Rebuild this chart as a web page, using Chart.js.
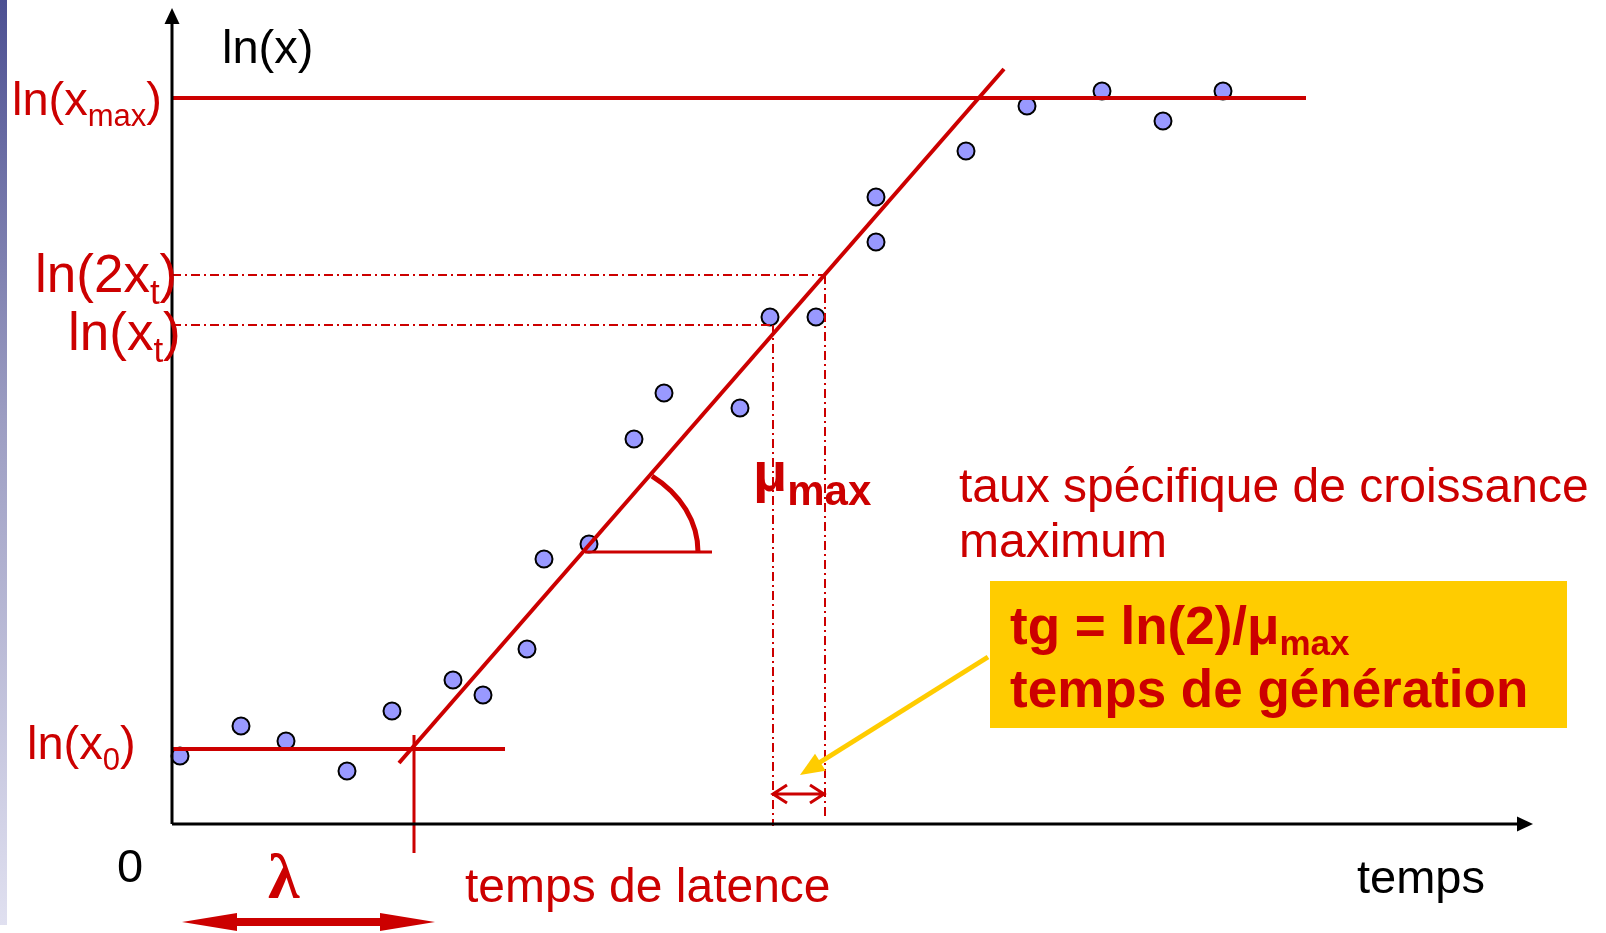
<!DOCTYPE html>
<html lang="fr">
<head>
<meta charset="utf-8">
<title>Courbe de croissance microbienne</title>
<script src="https://cdn.jsdelivr.net/npm/chart.js@4.4.1/dist/chart.umd.min.js"></script>
<style>
  html, body { margin: 0; padding: 0; background: #fff; }
  canvas { display: block; }
</style>
</head>
<body>
<canvas id="growth" width="1606" height="933"></canvas>
<script>
// Mesures : temps (abscisse) et ln(x) (ordonnée), unités arbitraires
const temps = [0.16, 1.38, 2.28, 3.50, 4.40, 5.62, 6.22, 7.10, 7.44, 8.34, 9.24,
               9.84, 11.36, 11.96, 12.88, 14.08, 14.08, 15.88, 17.10, 18.60, 19.82, 21.02];
const lnX   = [1.36, 1.96, 1.66, 1.06, 2.26, 2.88, 2.58, 3.50, 5.30, 5.60, 7.70,
               8.62, 8.32, 10.14, 10.14, 11.64, 12.54, 13.46, 14.36, 14.66, 14.06, 14.66];

// Niveaux de référence
const lnXmax = 14.52;
const lnX0 = 1.5;
const lnXt = 9.98;
const ln2Xt = 10.98;

// Droite de croissance exponentielle (deux extrémités)
const droiteT = [4.54, 16.64];
const droiteY = [1.22, 15.10];

// Temps caractéristiques
const lambda = 4.84;        // temps de latence
const tXt = 12.02;          // atteinte de ln(xt)
const t2Xt = 13.06;         // atteinte de ln(2xt)
const finPlateau = 22.68;
const finLatence = 6.66;

// Bornes des axes (origine en 0,0)
const X_MIN = -3.44, X_MAX = 28.68;
const Y_MIN = -2.18, Y_MAX = 16.48;
const AXE_X_FIN = 27.22, AXE_Y_FIN = 16.32;

const ROUGE = '#cc0000';
const JAUNE = '#ffcc00';
const SANS = '"Liberation Sans", Arial, sans-serif';
const TIRET_POINT = [9, 4, 2, 4];

function segment(xs, ys, color, width, dash) {
  return {
    type: 'scatter',
    data: xs.map((x, i) => ({ x: x, y: ys[i] })),
    showLine: true,
    borderColor: color,
    borderWidth: width,
    borderDash: dash || [],
    pointRadius: 0,
    pointHoverRadius: 0,
    clip: false,
    order: 1
  };
}

// Texte avec indices (parties successives sur une même ligne)
function texte(ctx, x, base, parts, color) {
  ctx.fillStyle = color;
  ctx.textBaseline = 'alphabetic';
  ctx.textAlign = 'left';
  parts.forEach(p => {
    ctx.font = (p.bold ? 'bold ' : '') + p.size + 'px ' + (p.family || SANS);
    ctx.fillText(p.t, x, base + (p.dy || 0));
    x += ctx.measureText(p.t).width;
  });
}

function flechePleine(ctx, x0, y0, x1, y1, len, half, color) {
  const a = Math.atan2(y1 - y0, x1 - x0);
  ctx.fillStyle = color;
  ctx.beginPath();
  ctx.moveTo(x1, y1);
  ctx.lineTo(x1 - len * Math.cos(a) + half * Math.sin(a), y1 - len * Math.sin(a) - half * Math.cos(a));
  ctx.lineTo(x1 - len * Math.cos(a) - half * Math.sin(a), y1 - len * Math.sin(a) + half * Math.cos(a));
  ctx.closePath();
  ctx.fill();
}

const decor = {
  id: 'decor',
  beforeDraw(chart) {
    const ctx = chart.ctx;
    ctx.save();
    ctx.fillStyle = '#fff';
    ctx.fillRect(0, 0, chart.width, chart.height);
    // bandeau dégradé à gauche
    const g = ctx.createLinearGradient(0, 0, 0, 925);
    g.addColorStop(0, '#4c5092');
    g.addColorStop(0.45, '#9c9dc2');
    g.addColorStop(1, '#e0e0f0');
    ctx.fillStyle = g;
    ctx.fillRect(0, 0, 7, 925);
    ctx.restore();
  },
  afterDatasetsDraw(chart) {
    const ctx = chart.ctx;
    const sx = chart.scales.x, sy = chart.scales.y;
    const px = v => sx.getPixelForValue(v);
    const py = v => sy.getPixelForValue(v);
    ctx.save();

    // pointes des axes
    flechePleine(ctx, px(0), py(0), px(0), py(AXE_Y_FIN), 16, 7.5, '#000');
    flechePleine(ctx, px(0), py(0), px(AXE_X_FIN), py(0), 16, 7.5, '#000');

    // angle de la pente
    const cx = px(8.22), cy = py(5.44);
    ctx.strokeStyle = ROUGE;
    ctx.lineWidth = 5;
    ctx.beginPath();
    ctx.ellipse(cx, cy, 115, 95, 0, -0.927, 0);
    ctx.stroke();

    // double flèche lambda
    const lx0 = px(0.2), lx1 = px(5.26), ly = py(-1.96);
    ctx.fillStyle = ROUGE;
    ctx.fillRect(lx0 + 40, ly - 4, lx1 - lx0 - 80, 8);
    flechePleine(ctx, lx1, ly, lx0, ly, 55, 9, ROUGE);
    flechePleine(ctx, lx0, ly, lx1, ly, 55, 9, ROUGE);

    // double flèche du temps de génération
    const gx0 = px(tXt), gx1 = px(t2Xt - 0.02), gy = py(0.6);
    ctx.strokeStyle = ROUGE;
    ctx.lineWidth = 3;
    ctx.beginPath();
    ctx.moveTo(gx0, gy); ctx.lineTo(gx1, gy);
    ctx.moveTo(gx0 + 14, gy - 9); ctx.lineTo(gx0, gy); ctx.lineTo(gx0 + 14, gy + 9);
    ctx.moveTo(gx1 - 14, gy - 9); ctx.lineTo(gx1, gy); ctx.lineTo(gx1 - 14, gy + 9);
    ctx.stroke();

    // cadre jaune et flèche
    ctx.fillStyle = JAUNE;
    ctx.fillRect(990, 581, 577, 147);
    ctx.strokeStyle = JAUNE;
    ctx.lineWidth = 5;
    ctx.beginPath();
    ctx.moveTo(988, 657);
    ctx.lineTo(814, 766);
    ctx.stroke();
    flechePleine(ctx, 988, 657, 800, 775, 24, 10, JAUNE);

    // libellés
    texte(ctx, 222, 63, [{ t: 'ln(x)', size: 47 }], '#000');
    texte(ctx, 117, 882, [{ t: '0', size: 47 }], '#000');
    texte(ctx, 1357, 893, [{ t: 'temps', size: 47 }], '#000');

    texte(ctx, 12, 115, [{ t: 'ln(x', size: 47 }, { t: 'max', size: 31, dy: 11 }, { t: ')', size: 47 }], ROUGE);
    texte(ctx, 35, 292, [{ t: 'ln(2x', size: 53 }, { t: 't', size: 35, dy: 12 }, { t: ')', size: 53 }], ROUGE);
    texte(ctx, 68, 350, [{ t: 'ln(x', size: 53 }, { t: 't', size: 35, dy: 12 }, { t: ')', size: 53 }], ROUGE);
    texte(ctx, 27, 759, [{ t: 'ln(x', size: 47 }, { t: '0', size: 31, dy: 11 }, { t: ')', size: 47 }], ROUGE);

    texte(ctx, 465, 902, [{ t: 'temps de latence', size: 48 }], ROUGE);
    texte(ctx, 959, 502, [{ t: 'taux spécifique de croissance', size: 48 }], ROUGE);
    texte(ctx, 959, 557, [{ t: 'maximum', size: 48 }], ROUGE);
    texte(ctx, 753, 491, [{ t: 'μ', size: 56, bold: true }, { t: 'max', size: 42, bold: true, dy: 14 }], ROUGE);
    texte(ctx, 268, 898, [{ t: 'λ', size: 64, bold: true, family: '"Liberation Serif", "DejaVu Serif", serif' }], ROUGE);

    texte(ctx, 1010, 644, [{ t: 'tg = ln(2)/μ', size: 53, bold: true }, { t: 'max', size: 35, bold: true, dy: 11 }], ROUGE);
    texte(ctx, 1010, 707, [{ t: 'temps de génération', size: 53, bold: true }], ROUGE);

    ctx.restore();
  }
};

const datasets = [
  // axes
  segment([0, AXE_X_FIN - 0.2], [0, 0], '#000', 3),
  segment([0, 0], [0, AXE_Y_FIN - 0.2], '#000', 3),
  // plateau et niveau initial
  segment([0, finPlateau], [lnXmax, lnXmax], ROUGE, 4),
  segment([0, finLatence], [lnX0, lnX0], ROUGE, 4),
  // phase exponentielle
  segment(droiteT, droiteY, ROUGE, 4),
  // repère du temps de latence
  segment([lambda, lambda], [1.78, -0.58], ROUGE, 3),
  // côté horizontal de l'angle
  segment([8.26, 10.8], [5.44, 5.44], ROUGE, 3),
  // lectures ln(xt) et ln(2xt)
  segment([0, t2Xt], [ln2Xt, ln2Xt], ROUGE, 2, TIRET_POINT),
  segment([0, tXt], [lnXt, lnXt], ROUGE, 2, TIRET_POINT),
  segment([tXt, tXt], [lnXt, -0.04], ROUGE, 2, TIRET_POINT),
  segment([t2Xt, t2Xt], [ln2Xt, 0.14], ROUGE, 2, TIRET_POINT),
  // mesures
  {
    type: 'scatter',
    data: temps.map((t, i) => ({ x: t, y: lnX[i] })),
    pointRadius: 8.5,
    pointHoverRadius: 8.5,
    pointBackgroundColor: '#9999ff',
    pointBorderColor: '#000',
    pointBorderWidth: 2,
    clip: false,
    order: 10
  }
];

new Chart(document.getElementById('growth'), {
  type: 'scatter',
  data: { datasets: datasets },
  options: {
    responsive: false,
    animation: false,
    events: [],
    layout: { padding: 0, autoPadding: false },
    plugins: {
      legend: { display: false },
      tooltip: { enabled: false }
    },
    scales: {
      x: { type: 'linear', min: X_MIN, max: X_MAX, display: false },
      y: { type: 'linear', min: Y_MIN, max: Y_MAX, display: false }
    }
  },
  plugins: [decor]
});
</script>
</body>
</html>
